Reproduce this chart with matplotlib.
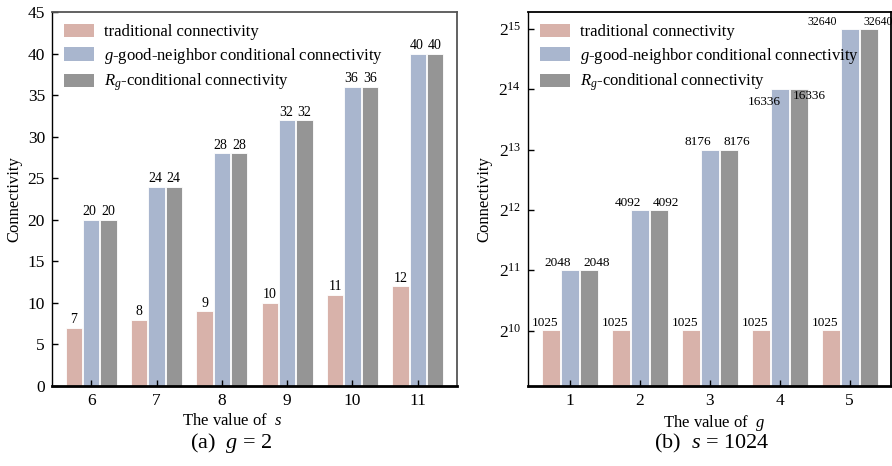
import numpy as np
import matplotlib
matplotlib.use("Agg")
import matplotlib.pyplot as plt
from matplotlib.patches import Patch

plt.rcParams['font.family'] = ['Liberation Serif', 'DejaVu Serif']
plt.rcParams['mathtext.fontset'] = 'custom'
plt.rcParams['mathtext.rm'] = 'Liberation Serif'
plt.rcParams['mathtext.it'] = 'Liberation Serif:italic'

# ---- data ----
s_values = [6, 7, 8, 9, 10, 11]
trad_a = [7, 8, 9, 10, 11, 12]
good_a = [20, 24, 28, 32, 36, 40]
rg_a = [20, 24, 28, 32, 36, 40]

g_values = [1, 2, 3, 4, 5]
trad_b = [1025, 1025, 1025, 1025, 1025]
good_b = [2048, 4092, 8176, 16336, 32640]
rg_b = [2048, 4092, 8176, 16336, 32640]

legend_labels = ['traditional connectivity',
                 r'$g$-good-neighbor conditional connectivity',
                 r'$R_g$-conditional connectivity']
colors = ['#D8B2AA', '#A9B6CE', '#959595']

# label placement tweaks (points) for panel (b), as in the reference
blue_dx = [1, 1, 1, 1, -9]
blue_dy = [1, 1, 1, -13, 1]
gray_dy = [1, 1, 1, -9, 1]
label_fs_b = [9.5, 9.5, 9.5, 9.5, 8.5]

fig = plt.figure(figsize=(8.92, 4.66), dpi=100)
ax1 = fig.add_axes([52/892, 1-386/466, (457-52)/892, 374/466])
ax2 = fig.add_axes([528/892, 1-386/466, (891-528)/892, 374/466])

TICK_FS = 12.5
BAR_FS = 10
LAB_FS = 12


def style(ax, edgecol):
    for side in ['top', 'right']:
        ax.spines[side].set_color(edgecol)
        ax.spines[side].set_linewidth(1.3)
    ax.spines['left'].set_linewidth(1.0)
    ax.spines['bottom'].set_linewidth(2.0)
    ax.tick_params(axis='both', direction='in', labelsize=TICK_FS, length=4, width=1)
    ax.tick_params(axis='x', pad=5)
    ax.tick_params(axis='y', pad=5)
    ax.minorticks_off()


# ---- panel (a) ----
x = np.array(s_values, dtype=float)
w = 0.25
off = 0.265
for vals, dx, c in zip([trad_a, good_a, rg_a], [-off, 0, off], colors):
    ax1.bar(x + dx, vals, width=w, color=c, edgecolor='white', linewidth=0.6)
for xi, v in zip(x, trad_a):
    ax1.annotate(str(v), (xi - off, v), xytext=(0, 1), textcoords='offset points',
                 ha='center', va='bottom', fontsize=BAR_FS)
for xi, v in zip(x, good_a):
    ax1.annotate(str(v), (xi, v), xytext=(-1, 1), textcoords='offset points',
                 ha='center', va='bottom', fontsize=BAR_FS)
for xi, v in zip(x, rg_a):
    ax1.annotate(str(v), (xi + off, v), xytext=(0, 1), textcoords='offset points',
                 ha='center', va='bottom', fontsize=BAR_FS)
ax1.set_xlim(5.40, 11.60)
ax1.set_ylim(0, 45)
ax1.set_xticks(s_values)
ax1.set_yticks(np.arange(0, 46, 5))
ax1.set_ylabel('Connectivity', fontsize=LAB_FS, labelpad=4)
ax1.set_xlabel(r'The value of  $s$', fontsize=LAB_FS)
ax1.xaxis.set_label_coords(0.444, -0.072)
style(ax1, '#555555')
fig.text(231/892, 1-443/466, r'(a)  $g$ = 2', ha='center', va='center', fontsize=16)

handles = [Patch(facecolor=c, edgecolor='none') for c in colors]
ax1.legend(handles, legend_labels, loc='upper left', frameon=False, fontsize=12,
           handlelength=1.8, handleheight=0.85, labelspacing=0.35,
           handletextpad=0.6, borderaxespad=0.3, bbox_to_anchor=(0.0, 1.0))

# ---- panel (b) ----
xb = np.array(g_values, dtype=float)
wb = 0.26
offb = 0.27
for vals, dx, c in zip([trad_b, good_b, rg_b], [-offb, 0, offb], colors):
    ax2.bar(xb + dx, vals, width=wb, color=c, edgecolor='white', linewidth=0.6)
ax2.set_yscale('log', base=2)
for xi, v in zip(xb, trad_b):
    ax2.annotate(str(v), (xi - offb, v), xytext=(-4, 1), textcoords='offset points',
                 ha='center', va='bottom', fontsize=9.5)
for xi, v, ddx, ddy, fs in zip(xb, good_b, blue_dx, blue_dy, label_fs_b):
    ax2.annotate(str(v), (xi, v), xytext=(ddx, ddy), textcoords='offset points',
                 ha='right', va='bottom', fontsize=fs)
for xi, v, ddy, fs in zip(xb, rg_b, gray_dy, label_fs_b):
    ax2.annotate(str(v), (xi + offb, v), xytext=(-4, ddy), textcoords='offset points',
                 ha='left', va='bottom', fontsize=fs)
ax2.set_xlim(0.40, 5.59)
ax2.set_ylim(2 ** 9.08, 2 ** 15.28)
ax2.set_xticks(g_values)
yt = [2 ** k for k in range(10, 16)]
ax2.set_yticks(yt)
ax2.set_yticklabels([r'$2^{%d}$' % k for k in range(10, 16)])
ax2.set_ylabel('Connectivity', fontsize=LAB_FS, labelpad=4)
ax2.set_xlabel(r'The value of  $g$', fontsize=LAB_FS)
ax2.xaxis.set_label_coords(0.512, -0.072)
style(ax2, 'black')
fig.text(712/892, 1-443/466, r'(b)  $s$ = 1024', ha='center', va='center', fontsize=16)
ax2.legend(handles, legend_labels, loc='upper left', frameon=False, fontsize=12,
           handlelength=1.8, handleheight=0.85, labelspacing=0.35,
           handletextpad=0.6, borderaxespad=0.3, bbox_to_anchor=(0.0, 1.0))

fig.savefig('out.png', dpi=100)
